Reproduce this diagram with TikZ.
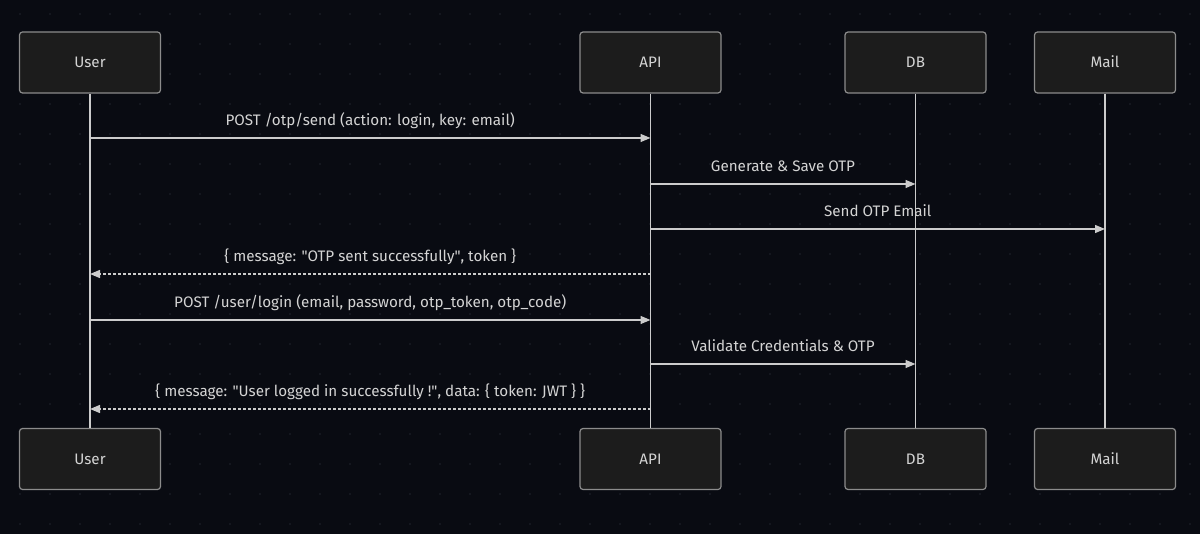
\documentclass[tikz,border=0pt]{standalone}
\usepackage{fontspec}
\setmainfont{Fira Sans}
\usetikzlibrary{arrows.meta}

\definecolor{bg}{HTML}{090B12}
\definecolor{dotc}{HTML}{181C25}
\definecolor{boxfill}{HTML}{1C1C1C}
\definecolor{boxline}{HTML}{8C8C8C}
\definecolor{wire}{HTML}{CCCCCC}
\definecolor{txt}{HTML}{D4D4D4}

\newcommand{\qt}{\textquotedbl}

\begin{document}
\begin{tikzpicture}[x=1pt, y=-1pt,
    actor/.style={draw=boxline, fill=boxfill, rounded corners=3pt, line width=1.2pt,
        minimum width=141pt, minimum height=61pt, text height=11pt, text depth=0pt,
        text=txt, font=\fontsize{15.2}{18}\selectfont},
    life/.style={draw=wire, line width=1.3pt},
    msg/.style={draw=wire, line width=1.3pt, -{Triangle[length=10pt,width=8pt]}},
    reply/.style={msg, dash pattern=on 3pt off 2pt},
    msglabel/.style={anchor=base, yshift=12pt, text=txt, font=\fontsize{15.2}{18}\selectfont}]

    % Background
    \fill[bg] (0,0) rectangle (1200,534);
    \foreach \x in {20,50,...,1190}
        \foreach \y in {14,44,...,530}
            \fill[dotc] (\x,\y) circle (1.2pt);

    % Participants, top and bottom
    \node[actor] (usertop) at (90,62.5) {User};
    \node[actor] (apitop) at (650.5,62.5) {API};
    \node[actor] (dbtop) at (915.5,62.5) {DB};
    \node[actor] (mailtop) at (1105,62.5) {Mail};
    \node[actor] (userbot) at (90,459) {User};
    \node[actor] (apibot) at (650.5,459) {API};
    \node[actor] (dbbot) at (915.5,459) {DB};
    \node[actor] (mailbot) at (1105,459) {Mail};

    % Lifelines
    \foreach \p in {user, api, db, mail}
        \draw[life] (\p top) -- (\p bot);

    % Messages
    \draw[msg] (usertop |- 0,138) -- (apitop |- 0,138)
        node[midway, msglabel] {POST /otp/send (action: login, key: email)};
    \draw[msg] (apitop |- 0,184) -- (dbtop |- 0,184)
        node[midway, msglabel] {Generate \& Save OTP};
    \draw[msg] (apitop |- 0,229) -- (mailtop |- 0,229)
        node[midway, msglabel] {Send OTP Email};
    \draw[reply] (apitop |- 0,274) -- (usertop |- 0,274)
        node[midway, msglabel] {\{ message: \qt OTP sent successfully\qt, token \}};
    \draw[msg] (usertop |- 0,320) -- (apitop |- 0,320)
        node[midway, msglabel] {POST /user/login (email, password, otp\_token, otp\_code)};
    \draw[msg] (apitop |- 0,364) -- (dbtop |- 0,364)
        node[midway, msglabel] {Validate Credentials \& OTP};
    \draw[reply] (apitop |- 0,409) -- (usertop |- 0,409)
        node[midway, msglabel] {\{ message: \qt User logged in successfully !\qt, data: \{ token: JWT \} \}};
\end{tikzpicture}
\end{document}
